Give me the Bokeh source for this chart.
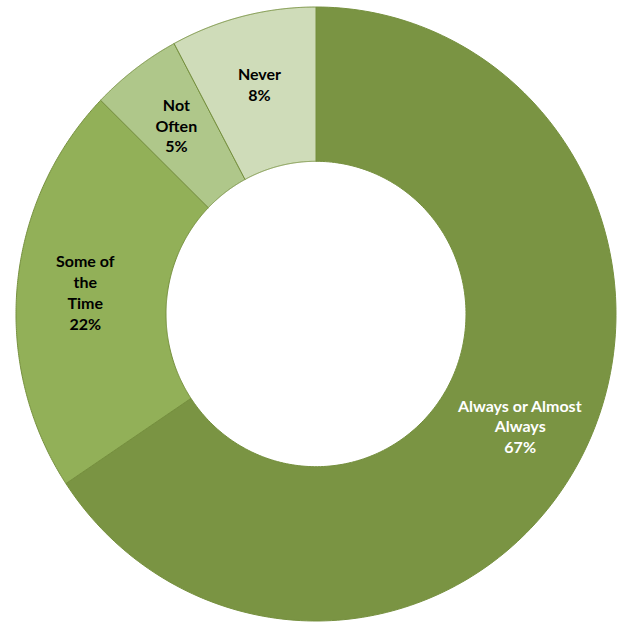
import numpy as np
from bokeh.plotting import figure
from bokeh.models import Range1d, ColumnDataSource
from bokeh.core.properties import value
from bokeh.embed import file_html
from bokeh.resources import INLINE

# ---- data ----
categories = ["Always or Almost\nAlways", "Some of\nthe\nTime", "Not\nOften", "Never"]
values = [67, 22, 5, 8]
pct_labels = ["67%", "22%", "5%", "8%"]
colors = ["#7A9443", "#92B058", "#AFC78A", "#CFDCB9"]
text_colors = ["white", "black", "black", "black"]

W, H = 621, 622
p = figure(width=W, height=H, output_backend="svg", toolbar_location=None,
           x_range=Range1d(0, W), y_range=Range1d(H, 0), min_border=0)
p.axis.visible = False
p.grid.visible = False
p.outline_line_color = None
p.background_fill_color = "white"
p.border_fill_color = "white"

cx, cy = 315.5, 313.5
rxo, ryo = 300.0, 307.0
rxi, ryi = 150.0, 152.7

vals = np.array(values, dtype=float)
frac = vals / vals.sum()
ends = np.cumsum(frac) * 2 * np.pi
starts = ends - frac * 2 * np.pi

xs, ys, lx, ly = [], [], [], []
for s, e in zip(starts, ends):
    t = np.linspace(s, e, 200)
    ox = cx + rxo * np.sin(t); oy = cy - ryo * np.cos(t)
    ix = cx + rxi * np.sin(t[::-1]); iy = cy - ryi * np.cos(t[::-1])
    xs.append(np.concatenate([ox, ix]).tolist())
    ys.append(np.concatenate([oy, iy]).tolist())
    m = (s + e) / 2
    lx.append(cx + 0.515 * (rxo + rxi) * np.sin(m))
    ly.append(cy - 0.515 * (ryo + ryi) * np.cos(m))

src = ColumnDataSource(dict(xs=xs, ys=ys, color=colors))
p.patches("xs", "ys", source=src, fill_color="color", line_color="#76903F", line_width=1)

txt = [c + "\n" + l for c, l in zip(categories, pct_labels)]
tsrc = ColumnDataSource(dict(x=lx, y=ly, text=txt, tc=text_colors))
p.text("x", "y", text="text", source=tsrc, text_color="tc", text_align="center",
       text_baseline="middle", text_font=value("Lato"), text_font_style="bold",
       text_font_size="16px", text_line_height=1.1)

open("out.html", "w").write(file_html(p, INLINE))
